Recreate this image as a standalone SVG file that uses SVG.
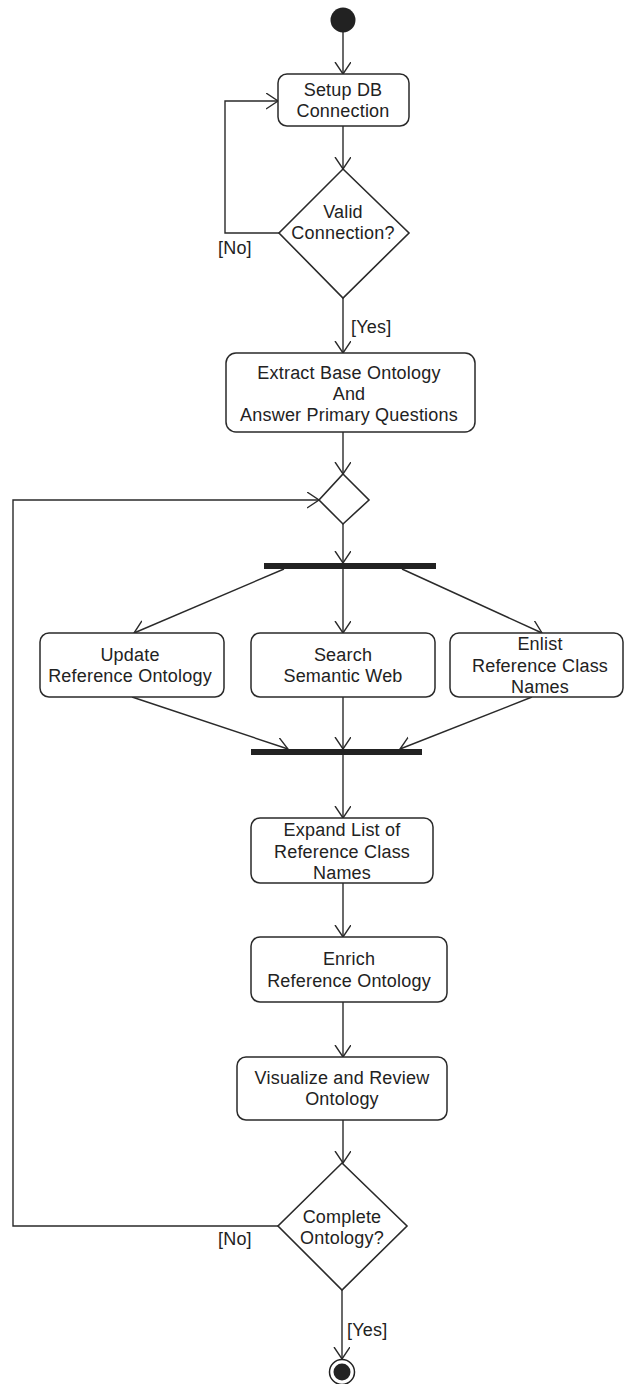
<svg xmlns="http://www.w3.org/2000/svg" width="626" height="1384" viewBox="0 0 626 1384">
  <style>
    .box { fill: #fff; stroke: #2a2a2a; stroke-width: 1.5; }
    .dec { fill: #fff; stroke: #2a2a2a; stroke-width: 1.6; }
    .bar { fill: #222; }
    .edge { fill: none; stroke: #2a2a2a; stroke-width: 1.4; }
    text { font-family: "Liberation Sans", Arial, sans-serif; font-size: 18px; letter-spacing: 0.2px; fill: #222; text-anchor: middle; }
    .lbl { text-anchor: start; }
  </style>
  <defs>
    <marker id="open" markerUnits="userSpaceOnUse" markerWidth="14" markerHeight="18" refX="12" refY="8" orient="auto">
      <path d="M0,0 L12,8 L0,16" fill="none" stroke="#2a2a2a" stroke-width="1.4"/>
    </marker>
  </defs>
  <rect width="626" height="1384" fill="#fff"/>

  <g id="connectors">
    <line class="edge" x1="343" y1="32" x2="343" y2="74" marker-end="url(#open)"/>
    <line class="edge" x1="343" y1="126" x2="343" y2="169" marker-end="url(#open)"/>
    <polyline class="edge" points="279,233 225,233 225,101 278,101" marker-end="url(#open)"/>
    <line class="edge" x1="343" y1="298" x2="343" y2="353" marker-end="url(#open)"/>
    <line class="edge" x1="343" y1="432" x2="343" y2="474" marker-end="url(#open)"/>
    <line class="edge" x1="343" y1="524" x2="343" y2="563" marker-end="url(#open)"/>
    <line class="edge" x1="284" y1="569" x2="134" y2="633" marker-end="url(#open)"/>
    <line class="edge" x1="343" y1="569" x2="343" y2="633" marker-end="url(#open)"/>
    <line class="edge" x1="402" y1="569" x2="542" y2="633" marker-end="url(#open)"/>
    <line class="edge" x1="132" y1="697" x2="288" y2="749" marker-end="url(#open)"/>
    <line class="edge" x1="343" y1="697" x2="343" y2="749" marker-end="url(#open)"/>
    <line class="edge" x1="532" y1="697" x2="400" y2="749" marker-end="url(#open)"/>
    <line class="edge" x1="343" y1="755" x2="343" y2="818" marker-end="url(#open)"/>
    <line class="edge" x1="343" y1="883" x2="343" y2="937" marker-end="url(#open)"/>
    <line class="edge" x1="343" y1="1002" x2="343" y2="1057" marker-end="url(#open)"/>
    <line class="edge" x1="343" y1="1120" x2="343" y2="1163" marker-end="url(#open)"/>
    <polyline class="edge" points="278,1226 13,1226 13,500 319,500" marker-end="url(#open)"/>
    <line class="edge" x1="342" y1="1290" x2="342" y2="1359" marker-end="url(#open)"/>
    <text class="lbl" x="218" y="254">[No]</text>
    <text class="lbl" x="351" y="333">[Yes]</text>
    <text class="lbl" x="218" y="1245">[No]</text>
    <text class="lbl" x="347" y="1336">[Yes]</text>
  </g>

  <g id="start">
    <circle cx="343" cy="20" r="12.5" fill="#222"/>
  </g>

  <g id="setup">
    <rect class="box" x="278" y="74" width="131" height="52" rx="9"/>
    <text x="343" y="96">Setup DB</text>
    <text x="343" y="117">Connection</text>
  </g>

  <g id="valid">
    <polygon class="dec" points="343,169 409,233 343,298 279,233"/>
    <text x="343" y="218">Valid</text>
    <text x="343" y="239">Connection?</text>
  </g>

  <g id="extract">
    <rect class="box" x="226" y="353" width="249" height="79" rx="10"/>
    <text x="349" y="379">Extract Base Ontology</text>
    <text x="349" y="400">And</text>
    <text x="349" y="421">Answer Primary Questions</text>
  </g>

  <g id="merge">
    <polygon class="dec" points="343,474 369,500 343,524 319,500"/>
  </g>

  <g id="fork">
    <rect class="bar" x="264" y="563" width="172" height="6"/>
  </g>

  <g id="update">
    <rect class="box" x="40" y="633" width="184" height="64" rx="9"/>
    <text x="130" y="661">Update</text>
    <text x="130" y="682">Reference Ontology</text>
  </g>

  <g id="search">
    <rect class="box" x="251" y="633" width="184" height="64" rx="9"/>
    <text x="343" y="661">Search</text>
    <text x="343" y="682">Semantic Web</text>
  </g>

  <g id="enlist">
    <rect class="box" x="450" y="633" width="173" height="64" rx="9"/>
    <text x="540" y="650">Enlist</text>
    <text x="540" y="672">Reference Class</text>
    <text x="540" y="693">Names</text>
  </g>

  <g id="join">
    <rect class="bar" x="251" y="749" width="171" height="6"/>
  </g>

  <g id="expand">
    <rect class="box" x="251" y="818" width="182" height="65" rx="9"/>
    <text x="342" y="836">Expand List of</text>
    <text x="342" y="858">Reference Class</text>
    <text x="342" y="879">Names</text>
  </g>

  <g id="enrich">
    <rect class="box" x="251" y="937" width="196" height="65" rx="9"/>
    <text x="349" y="965">Enrich</text>
    <text x="349" y="987">Reference Ontology</text>
  </g>

  <g id="visualize">
    <rect class="box" x="237" y="1057" width="210" height="63" rx="9"/>
    <text x="342" y="1084">Visualize and Review</text>
    <text x="342" y="1105">Ontology</text>
  </g>

  <g id="complete">
    <polygon class="dec" points="342,1163 407,1226 342,1290 278,1226"/>
    <text x="342" y="1223">Complete</text>
    <text x="342" y="1244">Ontology?</text>
  </g>

  <g id="end">
    <circle cx="342" cy="1372" r="12.5" fill="#fff" stroke="#222" stroke-width="1.5"/>
    <circle cx="342" cy="1372" r="8.5" fill="#222"/>
  </g>
</svg>
